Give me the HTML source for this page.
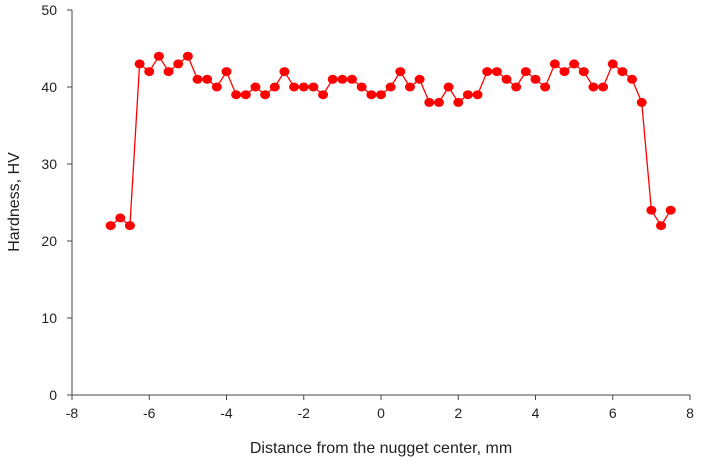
<!DOCTYPE html>
<html><head><meta charset="utf-8"><style>
body{margin:0;background:#fff;}
svg{display:block;font-family:"Liberation Sans",Arial,sans-serif;}
</style></head><body>
<svg id="chart" width="710" height="468" viewBox="0 0 710 468"></svg>
<script>
const xTicks=[-8,-6,-4,-2,0,2,4,6,8];
const yTicks=[0,10,20,30,40,50];
const distances=[-7,-6.75,-6.5,-6.25,-6,-5.75,-5.5,-5.25,-5,-4.75,-4.5,-4.25,-4,-3.75,-3.5,-3.25,-3,-2.75,-2.5,-2.25,-2,-1.75,-1.5,-1.25,-1,-0.75,-0.5,-0.25,0,0.25,0.5,0.75,1,1.25,1.5,1.75,2,2.25,2.5,2.75,3,3.25,3.5,3.75,4,4.25,4.5,4.75,5,5.25,5.5,5.75,6,6.25,6.5,6.75,7,7.25,7.5];
const hardness=[22,23,22,43,42,44,42,43,44,41,41,40,42,39,39,40,39,40,42,40,40,40,39,41,41,41,40,39,39,40,42,40,41,38,38,40,38,39,39,42,42,41,40,42,41,40,43,42,43,42,40,40,43,42,41,38,24,22,24];
const L=72,R=690,T=10,B=395;
const sx=v=>L+(v+8)/16*(R-L);
const sy=v=>B-v/50*(B-T);
const svg=document.getElementById('chart');
const NS='http://www.w3.org/2000/svg';
function mk(tag,attrs,parent){const e=document.createElementNS(NS,tag);for(const k in attrs)e.setAttribute(k,attrs[k]);(parent||svg).appendChild(e);return e;}
let e;
e=mk('line',{x1:L,y1:T,x2:L,y2:B,stroke:'#444','stroke-width':1});


e=mk('line',{x1:L,y1:B,x2:R,y2:B,stroke:'#444','stroke-width':1});


xTicks.forEach(t=>{
  const x=sx(t);
  e=mk('line',{x1:x,y1:B,x2:x,y2:B+5,stroke:'#444'});
  
  
  e=mk('text',{x:x,y:B+23,'text-anchor':'middle','font-size':14,fill:'#222'});
  e.textContent=t;
  
  
});
yTicks.forEach(t=>{
  const y=sy(t);
  e=mk('line',{x1:L-5,y1:y,x2:L,y2:y,stroke:'#444'});
  
  
  e=mk('text',{x:L-15,y:y+5,'text-anchor':'end','font-size':14,fill:'#222'});
  e.textContent=t;
  
  
});
e=mk('text',{x:381,y:453,'text-anchor':'middle','font-size':16,fill:'#222'});
e.textContent='Distance from the nugget center, mm';


e=mk('text',{x:19,y:202,'text-anchor':'middle','font-size':16,fill:'#222',transform:'rotate(-90 19 202)'});
e.textContent='Hardness, HV';


const pts=distances.map((d,i)=>sx(d)+','+sy(hardness[i])).join(' ');
e=mk('polyline',{points:pts,fill:'none',stroke:'#ff0000','stroke-width':1.3});


distances.forEach((d,i)=>{
  e=mk('ellipse',{cx:sx(d),cy:sy(hardness[i]),rx:5,ry:4.5,fill:'#ff0000'});
  
  
});
</script>
</body></html>
